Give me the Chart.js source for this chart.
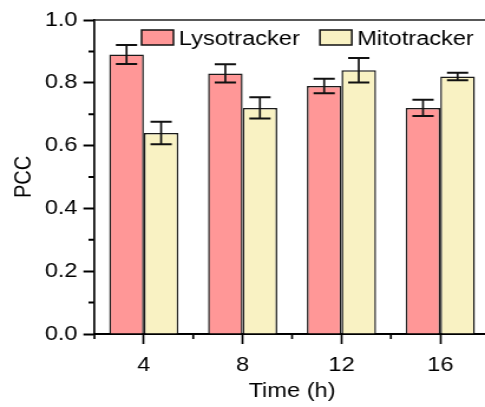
<!DOCTYPE html>
<html>
<head>
<meta charset="utf-8">
<script src="https://cdn.jsdelivr.net/npm/chart.js@4"></script>
<style>
  html, body { margin: 0; padding: 0; background: #fff; overflow: hidden; }
  /* the source figure is stretched sideways, so draw narrow and widen */
  #wrap { width: 420px; height: 407px; transform: scaleX(1.18); transform-origin: 0 0; }
</style>
</head>
<body>
<div id="wrap"><canvas id="pcc-chart"></canvas></div>
<script>
// Data
const timeLabels = ['4', '8', '12', '16'];
const lysoValues = [0.89, 0.83, 0.79, 0.72];
const lysoErrors = [0.03, 0.029, 0.023, 0.026];
const mitoValues = [0.64, 0.72, 0.84, 0.82];
const mitoErrors = [0.036, 0.034, 0.039, 0.012];
const yMinorTicks = [0.1, 0.3, 0.5, 0.7, 0.9];

const FONT = "'Liberation Sans', Arial, sans-serif";
Chart.defaults.font.family = FONT;
Chart.defaults.font.size = 20;
Chart.defaults.color = '#000';

// Error bars, drawn at each bar's own x and the y scale
const errorBars = {
    id: 'errorBars',
    afterDatasetsDraw(chart) {
        const { ctx } = chart;
        const y = chart.scales.y;
        ctx.save();
        ctx.strokeStyle = '#111';
        chart.data.datasets.forEach((ds, i) => {
            const meta = chart.getDatasetMeta(i);
            meta.data.forEach((bar, j) => {
                const hi = y.getPixelForValue(ds.data[j] + ds.errors[j]);
                const lo = y.getPixelForValue(ds.data[j] - ds.errors[j]);
                const half = 9;
                ctx.lineWidth = 1.7;
                ctx.beginPath();
                ctx.moveTo(bar.x, hi);
                ctx.lineTo(bar.x, lo);
                ctx.stroke();
                ctx.lineWidth = 2;
                ctx.beginPath();
                ctx.moveTo(bar.x - half, hi);
                ctx.lineTo(bar.x + half, hi);
                ctx.moveTo(bar.x - half, lo);
                ctx.lineTo(bar.x + half, lo);
                ctx.stroke();
            });
        });
        ctx.restore();
    }
};

// Top/right frame, minor ticks and the in-plot legend
const frameAndLegend = {
    id: 'frameAndLegend',
    afterDraw(chart) {
        const { ctx, chartArea: a } = chart;
        const x = chart.scales.x;
        const y = chart.scales.y;
        ctx.save();
        ctx.strokeStyle = '#222';
        ctx.lineWidth = 1.6;
        ctx.beginPath();
        ctx.moveTo(a.left, a.top);
        ctx.lineTo(a.right, a.top);
        ctx.lineTo(a.right, a.bottom);
        ctx.stroke();

        ctx.strokeStyle = '#000';
        ctx.lineWidth = 2;
        ctx.beginPath();
        yMinorTicks.forEach(v => {
            const py = y.getPixelForValue(v);
            ctx.moveTo(a.left, py);
            ctx.lineTo(a.left - 5, py);
        });
        ctx.stroke();
        ctx.lineWidth = 1.7;
        ctx.beginPath();
        for (let i = 0; i <= timeLabels.length; i++) {
            const px = x.getPixelForValue(i - 0.5);
            ctx.moveTo(px, a.bottom);
            ctx.lineTo(px, a.bottom + 5);
        }
        ctx.stroke();

        // legend
        ctx.font = '20px ' + FONT;
        ctx.textBaseline = 'alphabetic';
        ctx.fillStyle = '#000';
        let lx = a.left + 40;
        chart.data.datasets.forEach(ds => {
            ctx.fillStyle = ds.backgroundColor;
            ctx.fillRect(lx, 30, 27, 15);
            ctx.strokeStyle = '#111';
            ctx.lineWidth = 1.5;
            ctx.strokeRect(lx, 30, 27, 15);
            ctx.fillStyle = '#000';
            ctx.fillText(ds.label, lx + 31.5, 45);
            lx += 31.5 + ctx.measureText(ds.label).width + 17;
        });
        ctx.restore();
    }
};

new Chart(document.getElementById('pcc-chart'), {
    type: 'bar',
    data: {
        labels: timeLabels,
        datasets: [
            {
                label: 'Lysotracker',
                data: lysoValues,
                errors: lysoErrors,
                backgroundColor: '#FF9797',
                borderColor: '#1a1a1a',
                borderWidth: 1.5
            },
            {
                label: 'Mitotracker',
                data: mitoValues,
                errors: mitoErrors,
                backgroundColor: '#F9F2C3',
                borderColor: '#1a1a1a',
                borderWidth: 1.5
            }
        ]
    },
    options: {
        responsive: true,
        maintainAspectRatio: false,
        animation: false,
        layout: { padding: { top: 20, right: 5, bottom: 0, left: 0 } },
        categoryPercentage: 0.7,
        barPercentage: 1.0,
        plugins: {
            legend: { display: false },
            tooltip: { enabled: false }
        },
        scales: {
            x: {
                afterFit(scale) { scale.height = 73; },
                grid: {
                    offset: false,
                    drawOnChartArea: false,
                    tickLength: 10,
                    tickWidth: 1.7,
                    tickColor: '#000'
                },
                border: { display: true, color: '#000', width: 2 },
                ticks: { padding: 9, font: { size: 20 } },
                title: {
                    display: true,
                    text: 'Time (h)',
                    font: { size: 20 },
                    padding: { top: 0, bottom: 4 }
                }
            },
            y: {
                min: 0,
                max: 1,
                afterFit(scale) { scale.width = 80; },
                grid: {
                    drawOnChartArea: false,
                    tickLength: 9.3,
                    tickWidth: 2,
                    tickColor: '#000'
                },
                border: { display: true, color: '#000', width: 1.7 },
                ticks: {
                    stepSize: 0.2,
                    padding: 5,
                    font: { size: 20 },
                    callback: v => v.toFixed(1)
                },
                title: {
                    display: true,
                    text: 'PCC',
                    font: { size: 20 },
                    padding: { top: 8, bottom: 0 }
                }
            }
        }
    },
    plugins: [errorBars, frameAndLegend]
});
</script>
</body>
</html>
